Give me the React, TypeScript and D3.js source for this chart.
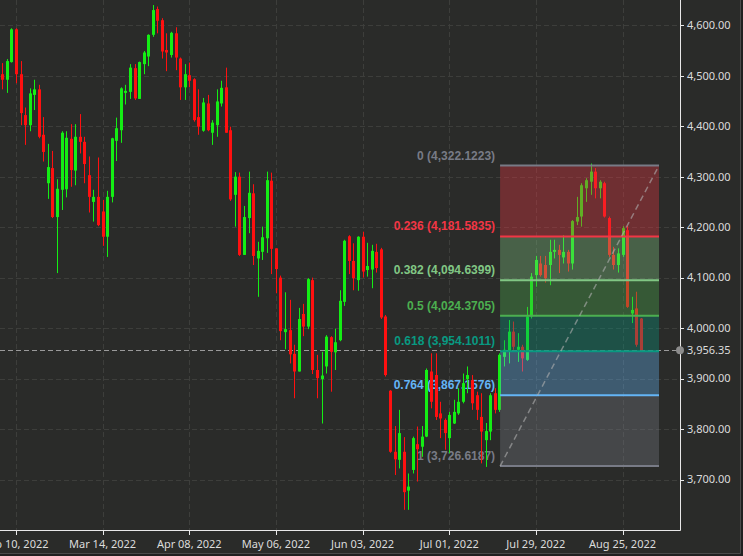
import React from "react";
import * as d3 from "d3";

// ---- Data (daily OHLC) ----
const openP = [4503,4492,4527,4592,4503,4422,4402,4462,4473,4383,4287,4317,4220,4274,4275,4375,4312,4379,4369,4303,4250,4260,4231,4181,4260,4371,4392,4466,4468,4515,4454,4523,4538,4581,4632,4610,4551,4541,4584,4534,4477,4501,4493,4418,4391,4445,4387,4402,4445,4477,4392,4264,4300,4145,4218,4267,4138,4151,4178,4292,4158,4100,3992,3996,3949,3914,4028,4003,4095,3917,3899,3924,3982,3952,3976,4052,4182,4133,4095,4181,4115,4116,4151,4156,4023,3876,3755,3739,3755,3678,3719,3770,3765,3785,3914,3907,3831,3818,3782,3811,3831,3854,3899,3897,3867,3824,3778,3795,3871,3838,3943,3953,3993,3957,3963,3937,4023,4105,4128,4125,4125,4151,4155,4140,4151,4128,4211,4221,4277,4290,4310,4277,4287,4218,4145,4125,4145,4194,4029,4039,4019];
const highP = [4525,4533,4594,4594,4529,4437,4475,4492,4482,4418,4365,4351,4295,4390,4390,4404,4404,4424,4379,4340,4274,4338,4254,4272,4377,4417,4477,4482,4523,4523,4528,4549,4582,4640,4637,4614,4584,4587,4596,4536,4523,4526,4495,4473,4456,4462,4412,4473,4490,4516,4399,4309,4308,4242,4310,4285,4171,4201,4310,4308,4158,4104,4071,4056,3967,4040,4048,4099,4100,3947,3953,3986,3984,3999,4075,4175,4184,4168,4182,4191,4169,4165,4167,4159,4026,3877,3806,3838,3784,3712,3785,3805,3806,3920,3950,3950,3854,3821,3834,3858,3881,3910,3924,3907,3874,3871,3812,3871,3881,3950,3976,4016,4013,3990,3967,4042,4109,4143,4143,4143,4175,4175,4165,4184,4155,4214,4260,4287,4297,4326,4317,4293,4290,4221,4161,4158,4202,4202,4062,4072,4020];
const lowP = [4473,4466,4526,4485,4402,4363,4390,4432,4376,4330,4256,4218,4109,4234,4259,4280,4283,4346,4287,4229,4211,4202,4163,4141,4249,4331,4367,4443,4454,4452,4454,4503,4519,4577,4584,4534,4509,4536,4511,4452,4452,4477,4409,4383,4389,4390,4363,4379,4439,4387,4252,4201,4143,4145,4188,4125,4062,4135,4149,4107,4069,3976,3958,3930,3861,3914,3984,3998,3909,3861,3811,3910,3874,3917,3974,4044,4107,4075,4074,4100,4102,4079,4110,4018,3904,3753,3709,3722,3640,3640,3712,3696,3745,3784,3841,3818,3782,3759,3752,3810,3828,3851,3871,3838,3818,3732,3725,3778,3831,3834,3924,3930,3957,3933,3914,3935,4019,4082,4102,4090,4085,4138,4109,4128,4112,4116,4204,4201,4250,4264,4257,4257,4219,4141,4116,4110,4141,4040,4010,3963,3956];
const closeP = [4492,4529,4592,4503,4426,4402,4465,4473,4379,4349,4319,4220,4276,4387,4377,4313,4379,4369,4325,4260,4260,4204,4181,4260,4376,4396,4475,4470,4516,4455,4527,4546,4581,4630,4609,4548,4546,4585,4536,4477,4503,4490,4412,4399,4447,4392,4407,4449,4476,4387,4255,4300,4145,4220,4268,4143,4153,4180,4293,4157,4117,3994,3998,3948,3914,4018,4003,4097,3917,3901,3906,3983,3953,3972,4054,4173,4133,4099,4181,4112,4123,4153,4119,4021,3907,3755,3740,3792,3675,3686,3782,3760,3785,3917,3854,3824,3821,3792,3828,3834,3854,3891,3907,3851,3838,3795,3796,3867,3838,3947,3957,3993,3963,3963,3940,4023,4102,4135,4105,4099,4151,4155,4145,4151,4128,4212,4220,4283,4293,4310,4277,4290,4221,4145,4125,4148,4198,4042,4036,3967,3956.35];

const tickLabels = ["Feb 10, 2022", "Mar 14, 2022", "Apr 08, 2022", "May 06, 2022", "Jun 03, 2022", "Jul 01, 2022", "Jul 29, 2022", "Aug 25, 2022"];
const firstTickBar = 3;
const barsPerTick = 19;
const priceTicks = [3700, 3800, 3900, 4000, 4100, 4200, 4300, 4400, 4500, 4600];
const lastPrice = 3956.35;

const fibStartBar = 109.15;
const fibEndBar = 144.0;
const fibRatios = ["0", "0.236", "0.382", "0.5", "0.618", "0.764", "1"];
const fibValues = [4322.1223, 4181.5835, 4094.6399, 4024.3705, 3954.1011, 3867.1576, 3726.6187];
const fibColors = ["#787b86", "#f23645", "#81c784", "#4caf50", "#089981", "#64b5f6", "#787b86"];

// ---- Layout ----
const W = 743;
const H = 556;
const PR = 680; // plot right
const PB = 530; // plot bottom
const BG = "#2a2b29";
const GRID = "#3d3e3b";
const UP = "#14ee14";
const DOWN = "#ff1010";
const AXIS_FONT = "'Noto Sans', 'Open Sans', sans-serif";
const FIB_FONT = "'Liberation Sans', Arial, sans-serif";

export default function App() {
  const n = closeP.length;
  const x = d3.scaleLinear().domain([-0.5, 148.6]).range([0, PR]);
  const y = d3.scaleLinear().domain([3600, 4650]).range([PB, 0]);
  const fmtPrice = d3.format(",.2f");
  const fmtFib = d3.format(",.4f");

  const tickBars = tickLabels.map((_, i) => firstTickBar + i * barsPerTick);

  const fibLevels = fibRatios.map((r, i) => ({
    r,
    v: fibValues[i],
    color: fibColors[i],
  }));
  const fx0 = x(fibStartBar);
  const fx1 = x(fibEndBar);
  const fibLow = fibValues[fibValues.length - 1];
  const fibHigh = fibValues[0];

  const candles = d3.range(n).map((i) => {
    const o = openP[i], h = highP[i], l = lowP[i], c = closeP[i];
    const up = c >= o;
    const cx = Math.round(x(i));
    const top = y(Math.max(o, c));
    const bot = y(Math.min(o, c));
    return (
      <g key={i}>
        <rect x={cx} y={y(h)} width={1} height={Math.max(1, y(l) - y(h))} fill={up ? UP : DOWN} />
        <rect x={cx - 1} y={top} width={3} height={Math.max(1, bot - top)} fill={up ? UP : DOWN} />
      </g>
    );
  });

  const lastY = y(lastPrice);

  return (
    <svg
      width={W}
      height={H}
      style={{ position: "absolute", left: 0, top: 0, display: "block" }}
      xmlns="http://www.w3.org/2000/svg"
    >
      <rect x={0} y={0} width={W} height={H} fill="#202020" />
      <rect x={0} y={0} width={740} height={553} fill={BG} />
      <line x1={740.5} y1={0} x2={740.5} y2={553.5} stroke="#4a4a4a" />
      <line x1={0} y1={553.5} x2={740.5} y2={553.5} stroke="#4a4a4a" />

      {/* grid */}
      {priceTicks.map((p) => (
        <line key={"hg" + p} x1={0} x2={PR} y1={Math.round(y(p)) + 0.5} y2={Math.round(y(p)) + 0.5} stroke={GRID} strokeDasharray="5 3" />
      ))}
      {tickBars.map((b) => (
        <line key={"vg" + b} x1={Math.round(x(b)) + 0.5} x2={Math.round(x(b)) + 0.5} y1={0} y2={PB} stroke={GRID} strokeDasharray="5 3" />
      ))}

      {/* last price line */}
      <line x1={0} x2={PR} y1={Math.round(lastY) + 0.5} y2={Math.round(lastY) + 0.5} stroke="#9a9a9a" strokeDasharray="5 3" />

      {/* fib labels (under candles) */}
      {fibLevels.map((f) => (
        <text
          key={"fl" + f.r}
          x={fx0 - 5}
          y={y(f.v) - 6}
          textAnchor="end"
          fill={f.color}
          fontFamily={FIB_FONT}
          fontWeight="bold"
          fontSize={12}
        >
          {`${f.r} (${fmtFib(f.v)})`}
        </text>
      ))}

      {/* candles */}
      {candles}

      {/* fib zones on top */}
      {fibLevels.slice(1).map((f, i) => {
        const prev = fibLevels[i];
        return (
          <rect
            key={"fz" + f.r}
            x={fx0}
            y={y(prev.v)}
            width={fx1 - fx0}
            height={y(f.v) - y(prev.v)}
            fill={f.color}
            fillOpacity={0.35}
          />
        );
      })}
      {fibLevels.map((f) => (
        <line key={"fline" + f.r} x1={fx0} x2={fx1} y1={y(f.v)} y2={y(f.v)} stroke={f.color} strokeWidth={2} />
      ))}
      <line x1={fx0} y1={y(fibLow)} x2={fx1} y2={y(fibHigh)} stroke="#b0b0b0" strokeOpacity={0.6} strokeWidth={1.5} strokeDasharray="6 4" />

      {/* axes */}
      <line x1={PR + 0.5} x2={PR + 0.5} y1={0} y2={PB + 0.5} stroke="#e8e8e8" />
      <line x1={0} x2={PR + 0.5} y1={PB + 0.5} y2={PB + 0.5} stroke="#e8e8e8" />
      {priceTicks.map((p) => (
        <g key={"yt" + p}>
          <line x1={PR} x2={PR + 4} y1={Math.round(y(p)) + 0.5} y2={Math.round(y(p)) + 0.5} stroke="#e8e8e8" />
          <text x={PR + 7} y={y(p)} dy="0.35em" fill="#dcdcdc" fontFamily={AXIS_FONT} fontSize={11}>
            {fmtPrice(p)}
          </text>
        </g>
      ))}
      <circle cx={PR} cy={lastY} r={4} fill="#8c8c8c" />
      <text x={PR + 7} y={lastY} dy="0.35em" fill="#dcdcdc" fontFamily={AXIS_FONT} fontSize={11}>
        {fmtPrice(lastPrice)}
      </text>
      {tickBars.map((b, i) => (
        <g key={"xt" + b}>
          <line x1={Math.round(x(b)) + 0.5} x2={Math.round(x(b)) + 0.5} y1={PB} y2={PB + 5} stroke="#e8e8e8" />
          <text x={x(b)} y={PB + 18} textAnchor="middle" fill="#dcdcdc" fontFamily={AXIS_FONT} fontSize={11}>
            {tickLabels[i]}
          </text>
        </g>
      ))}
    </svg>
  );
}
